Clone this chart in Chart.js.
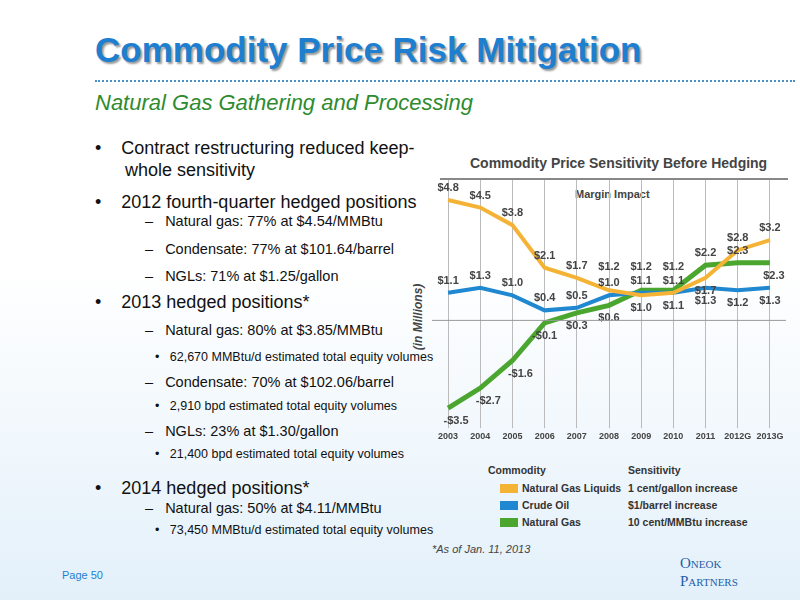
<!DOCTYPE html><html><head><meta charset="utf-8">
<script src="https://cdn.jsdelivr.net/npm/chart.js@4"></script>
<style>
body{margin:0;width:800px;height:600px;overflow:hidden;font-family:"Liberation Sans",Arial,sans-serif;background:linear-gradient(#fff 0%,#fff 45%,#e3f0fa 100%);position:relative}
.t{position:absolute;left:95px;top:30px;font-size:35px;font-weight:bold;color:#1e7fd0;text-shadow:2px 2px 2px #999}
.dots{position:absolute;left:95px;top:80px;width:700px;border-top:2px dotted #4a90c8}
.sub{position:absolute;left:95px;top:90px;font-size:22px;font-style:italic;color:#2e8b2e}
.b{position:absolute;left:95px;font-size:18px;color:#111}
.d{position:absolute;left:145px;font-size:14.5px;color:#111;font-family:"Liberation Sans Narrow",Arial}
.s{position:absolute;left:155px;font-size:12.5px;color:#111;font-family:"Liberation Sans Narrow",Arial}
#w{position:absolute;left:432px;top:180px;width:362px;height:265px}
.ct{position:absolute;left:470px;top:155px;font-size:14px;font-weight:bold;color:#444;font-family:"Liberation Sans Narrow",Arial}
.ln{position:absolute;left:440px;top:178px;width:348px;border-top:2px solid #888}
.mi{position:absolute;left:575px;top:188px;font-size:11px;font-weight:bold;color:#444;font-family:"Liberation Sans Narrow",Arial}
.yl{position:absolute;left:385px;top:310px;transform:rotate(-90deg);font-size:12px;font-weight:bold;font-style:italic;color:#444}
.lg{position:absolute;font-size:10.5px;color:#333;font-weight:bold;font-family:"Liberation Sans Narrow",Arial}
.sw{position:absolute;width:18px;height:9px;left:500px}
</style></head><body>
<div class="t">Commodity Price Risk Mitigation</div><div class="dots"></div>
<div class="sub">Natural Gas Gathering and Processing</div>
<div class="b" style="top:138px">•&nbsp;&nbsp;&nbsp;&nbsp;Contract restructuring reduced keep-</div>
<div class="b" style="left:125px;top:160px">whole sensitivity</div>
<div class="b" style="top:192px">•&nbsp;&nbsp;&nbsp;&nbsp;2012 fourth-quarter hedged positions</div>
<div class="d" style="top:213px">–&nbsp;&nbsp;&nbsp;Natural gas: 77% at $4.54/MMBtu</div>
<div class="d" style="top:241px">–&nbsp;&nbsp;&nbsp;Condensate: 77% at $101.64/barrel</div>
<div class="d" style="top:268px">–&nbsp;&nbsp;&nbsp;NGLs: 71% at $1.25/gallon</div>
<div class="b" style="top:292px">•&nbsp;&nbsp;&nbsp;&nbsp;2013 hedged positions*</div>
<div class="d" style="top:322px">–&nbsp;&nbsp;&nbsp;Natural gas: 80% at $3.85/MMBtu</div>
<div class="s" style="top:350px">•&nbsp;&nbsp;&nbsp;62,670 MMBtu/d estimated total equity volumes</div>
<div class="d" style="top:374px">–&nbsp;&nbsp;&nbsp;Condensate: 70% at $102.06/barrel</div>
<div class="s" style="top:399px">•&nbsp;&nbsp;&nbsp;2,910 bpd estimated total equity volumes</div>
<div class="d" style="top:423px">–&nbsp;&nbsp;&nbsp;NGLs: 23% at $1.30/gallon</div>
<div class="s" style="top:447px">•&nbsp;&nbsp;&nbsp;21,400 bpd estimated total equity volumes</div>
<div class="b" style="top:478px">•&nbsp;&nbsp;&nbsp;&nbsp;2014 hedged positions*</div>
<div class="d" style="top:500px">–&nbsp;&nbsp;&nbsp;Natural gas: 50% at $4.11/MMBtu</div>
<div class="s" style="top:523px">•&nbsp;&nbsp;&nbsp;73,450 MMBtu/d estimated total equity volumes</div>
<div style="position:absolute;left:432px;top:543px;font-size:11px;font-style:italic;color:#444">*As of Jan. 11, 2013</div>
<div style="position:absolute;left:62px;top:569px;font-size:11px;color:#1e7fd0">Page 50</div>
<div style="position:absolute;left:680px;top:555px;font-size:15px;color:#1e5fa8;font-family:'Liberation Serif';line-height:17px">O<span style="font-size:11px">NEOK</span><br>P<span style="font-size:11px">ARTNERS</span></div>
<div class="ct">Commodity Price Sensitivity Before Hedging</div><div class="ln"></div>
<div class="mi">Margin Impact</div>
<div class="yl">(in Millions)</div>
<div id="w"><canvas id="c"></canvas></div>
<div class="lg" style="left:488px;top:464px">Commodity</div>
<div class="lg" style="left:628px;top:464px">Sensitivity</div>
<div class="sw" style="top:484px;background:#f5b335"></div><div class="lg" style="left:522px;top:482px">Natural Gas Liquids</div><div class="lg" style="left:628px;top:482px">1 cent/gallon increase</div>
<div class="sw" style="top:501px;background:#1f88d0"></div><div class="lg" style="left:522px;top:499px">Crude Oil</div><div class="lg" style="left:628px;top:499px">$1/barrel increase</div>
<div class="sw" style="top:518px;background:#4aa62e"></div><div class="lg" style="left:522px;top:516px">Natural Gas</div><div class="lg" style="left:628px;top:516px">10 cent/MMBtu increase</div>
<script>
const years=["2003","2004","2005","2006","2007","2008","2009","2010","2011","2012G","2013G"];
const ngl=[4.8,4.5,3.8,2.1,1.7,1.2,1.0,1.1,1.7,2.8,3.2];
const crude=[1.1,1.3,1.0,0.4,0.5,1.0,1.1,1.1,1.3,1.2,1.3];
const gas=[-3.5,-2.7,-1.6,-0.1,0.3,0.6,1.2,1.2,2.2,2.3,2.3];
const nglPos=[-1,-1,-1,-1,-1,-22,1,1,1,-1,-1];
const crudePos=[-1,-1,-1,-1,-1,-1,-1,-1,1,1,1];
const gasPos=[1,1,1,1,1,1,-22,-22,-1,-1,1];
const lbl={id:'lbl',afterDatasetsDraw(ch){const c=ch.ctx;c.save();c.font='bold 11px "Liberation Sans Narrow",Arial';c.fillStyle='#444';c.textAlign='center';
const pos=[nglPos,crudePos,gasPos];
ch.data.datasets.forEach((d,i)=>{ch.getDatasetMeta(i).data.forEach((p,j)=>{const v=d.data[j];const t=(v<0?'-$':'$')+Math.abs(v).toFixed(1);let dx=0;if(i==2&&j>=10)dx=4;if(i==2&&j<3)dx=8;const k=pos[i][j];const dy=k==-22?-20:(k<0?-9:16);c.fillText(t,p.x+dx,p.y+dy);});});
const y0=ch.scales.y.getPixelForValue(0);c.strokeStyle='#999';c.lineWidth=1;c.beginPath();c.moveTo(ch.chartArea.left,y0);c.lineTo(ch.chartArea.right,y0);c.stroke();
c.restore();}};
new Chart(document.getElementById('c'),{type:'line',data:{labels:years,datasets:[
{data:ngl,borderColor:'#f5b335',borderWidth:4,pointRadius:0,tension:0},
{data:crude,borderColor:'#1f88d0',borderWidth:4,pointRadius:0,tension:0},
{data:gas,borderColor:'#4aa62e',borderWidth:5,pointRadius:0,tension:0}]},
options:{animation:false,responsive:true,maintainAspectRatio:false,layout:{padding:{left:0,right:8,top:0}},
plugins:{legend:{display:false},tooltip:{enabled:false}},
scales:{x:{offset:true,grid:{color:'#bbb',tickLength:0},border:{display:false},ticks:{color:'#444',maxRotation:0,autoSkip:false,font:{size:9,weight:'bold',family:'"Liberation Sans Narrow",Arial'}}},
y:{min:-4.3,max:5.6,display:false}}},plugins:[lbl]});
</script></body></html>
